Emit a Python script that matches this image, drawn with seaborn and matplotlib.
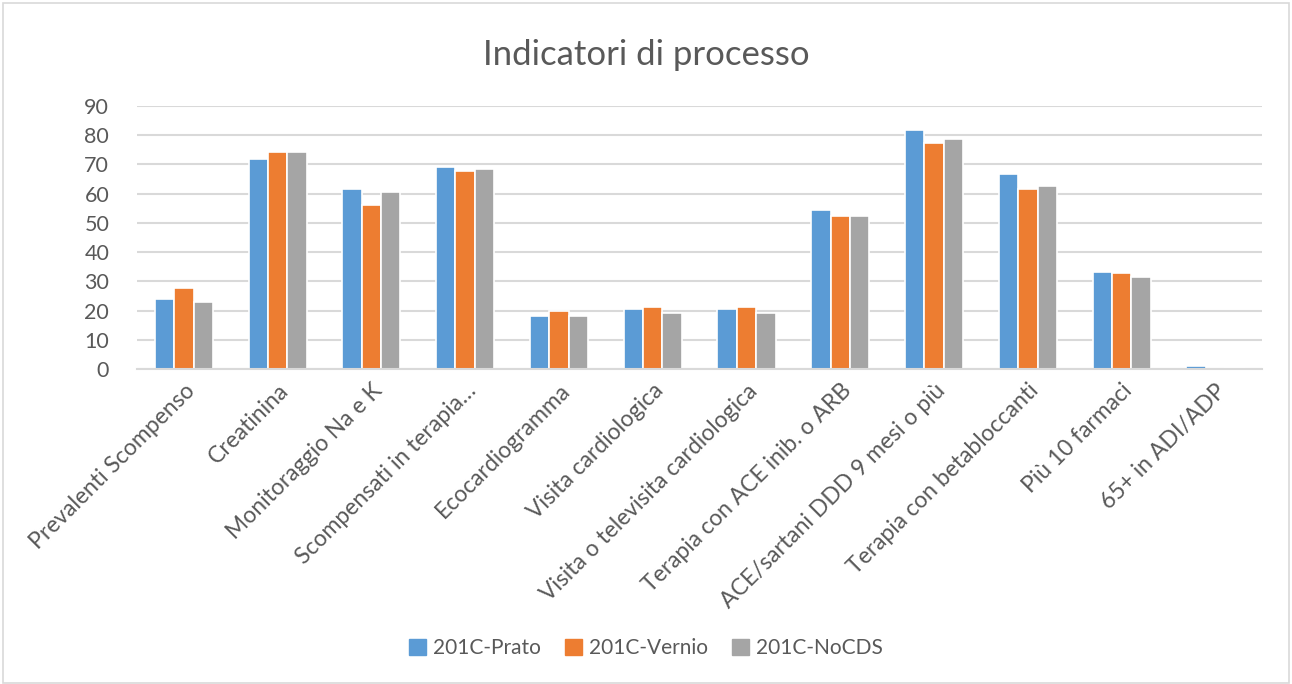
import numpy as np
import pandas as pd
import matplotlib
matplotlib.use("Agg")
import matplotlib.pyplot as plt
import seaborn as sns
from matplotlib.patches import Rectangle

categories = ["Prevalenti Scompenso", "Creatinina", "Monitoraggio Na e K",
              "Scompensati in terapia…", "Ecocardiogramma", "Visita cardiologica",
              "Visita o televisita cardiologica", "Terapia con ACE inib. o ARB",
              "ACE/sartani DDD 9 mesi o più", "Terapia con betabloccanti",
              "Più 10 farmaci", "65+ in ADI/ADP"]
series_names = ["201C-Prato", "201C-Vernio", "201C-NoCDS"]
prato = [23.9, 71.9, 61.5, 69.0, 18.1, 20.7, 20.7, 54.3, 81.9, 66.7, 33.3, 0.9]
vernio = [27.8, 74.1, 56.1, 67.7, 19.9, 21.2, 21.2, 52.2, 77.4, 61.6, 33.0, 0.0]
nocds = [22.9, 74.4, 60.6, 68.6, 18.3, 19.1, 19.1, 52.5, 78.8, 62.5, 31.5, 0.3]
colors = ["#5B9BD5", "#ED7D31", "#A5A5A5"]
yticks = [0, 10, 20, 30, 40, 50, 60, 70, 80, 90]

rows = []
for name, vals in zip(series_names, [prato, vernio, nocds]):
    for c, v in zip(categories, vals):
        rows.append({"cat": c, "serie": name, "val": v})
df = pd.DataFrame(rows)

sns.set_theme(style="white")
plt.rcParams['font.family'] = ['Lato', 'DejaVu Sans']
txt = "#595959"

fig = plt.figure(figsize=(12.92, 6.84), dpi=100)
fig.patches.append(Rectangle((0.002, 0.002), 0.996, 0.994, transform=fig.transFigure,
                             fill=False, edgecolor="#d9d9d9", linewidth=1.2))
ax = fig.add_axes([0.106, 0.4605, 0.871, 0.3845])

sns.barplot(data=df, x="cat", y="val", hue="serie", palette=colors, order=categories,
            hue_order=series_names, width=0.62, edgecolor="white", linewidth=1.2,
            saturation=1, ax=ax, legend=True)

ax.set_ylim(0, 90)
ax.set_yticks(yticks)
ax.set_yticklabels([str(t) for t in yticks], fontsize=15.5, color=txt)
ax.yaxis.grid(True, color="#d9d9d9", linewidth=1.5)
ax.set_axisbelow(True)
for s in ["top", "right", "left"]:
    ax.spines[s].set_visible(False)
ax.spines["bottom"].set_color("#d9d9d9")
ax.spines["bottom"].set_linewidth(1.5)
ax.tick_params(axis="both", length=0)
ax.tick_params(axis="y", pad=20)
ax.set_xlabel("")
ax.set_ylabel("")
ax.set_xticks(range(len(categories)))
ax.set_xticklabels(categories, rotation=45, ha="right", rotation_mode="anchor",
                   fontsize=16.5, color=txt)
ax.tick_params(axis="x", pad=8)
ax.set_xlim(-0.5, len(categories) - 0.5)

fig.text(0.5, 0.92, "Indicatori di processo", ha="center", va="center",
         fontsize=25, color=txt)

ax.legend_.remove()
handles = [Rectangle((0, 0), 1, 1, color=c) for c in colors]
fig.legend(handles, series_names, loc="center", bbox_to_anchor=(0.5, 0.052), ncol=3,
           frameon=False, fontsize=15, labelcolor=txt, handlelength=0.8,
           handleheight=0.8, handletextpad=0.35, columnspacing=1.15)

fig.savefig("out.png", dpi=100)
